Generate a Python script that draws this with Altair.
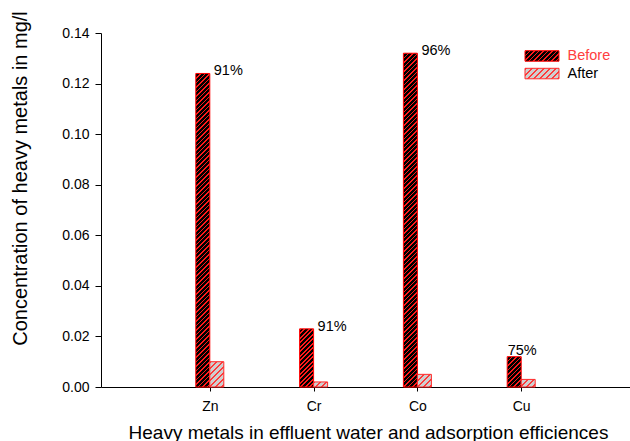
import math
import altair as alt
import pandas as pd

# Heavy metal concentrations (mg/l) before and after adsorption
metals = ["Zn", "Cr", "Co", "Cu"]
before = [0.124, 0.023, 0.132, 0.012]
after = [0.010, 0.002, 0.005, 0.003]
efficiency = ["91%", "91%", "96%", "75%"]
series = ["Before", "After"]

FONT = "Liberation Sans"
PLOT_W, PLOT_H = 529, 354
Y_MAX = 0.14
BAR_W = 14
PX_PER_UNIT = PLOT_H / Y_MAX


def hatch(bg, fg, w, h, period, frac):
    """Diagonal '///' hatch built from a hard-stop linear gradient.

    Works in bounding-box units: with the vector scaled by (w, h) the
    gradient parameter becomes (x + y) / (w + h), so stripes run at 45 deg.
    """
    t = (w + h) / (w * w + h * h)
    span = w + h
    n = int(math.ceil(span / period))
    stops = []
    for k in range(n):
        a = k * period / span
        b = min((k * period + period * frac) / span, 1.0)
        c = min((k + 1) * period / span, 1.0)
        stops += [(a, fg), (b, fg), (b, bg), (c, bg)]
    return alt.LinearGradient(
        gradient="linear",
        stops=[alt.GradientStop(offset=round(o, 5), color=col) for o, col in stops],
        x1=0, y1=0, x2=round(w * t, 5), y2=round(h * t, 5),
    )


STYLE = {
    "Before": dict(bg="#000000", fg="#ff1a1a", period=4.5, frac=0.36, stroke="#ff0000", offset=-BAR_W / 2),
    "After": dict(bg="#cfcfcf", fg="#ff3a3a", period=6.0, frac=0.3, stroke="#ff2a2a", offset=BAR_W / 2),
}

rows = []
for i, m in enumerate(metals):
    rows.append({"metal": m, "pos": i + 1, "series": "Before", "value": before[i]})
    rows.append({"metal": m, "pos": i + 1, "series": "After", "value": after[i]})
df = pd.DataFrame(rows)

label_expr = "['', " + ", ".join(f"'{m}'" for m in metals) + "][datum.value]"

x_enc = alt.X(
    "pos:Q",
    scale=alt.Scale(domain=[0, len(metals) + 1], nice=False, zero=False),
    axis=alt.Axis(
        values=list(range(1, len(metals) + 1)),
        labelExpr=label_expr,
        title="Heavy metals in effluent water and adsorption efficiences",
        titleFontSize=19, titleFont=FONT, titleFontWeight="normal",
        titleX=267, titleY=45, titleBaseline="middle", titleAnchor="middle",
        labelFontSize=14, labelFont=FONT, labelPadding=8,
        tickSize=4, grid=False, domainColor="black", tickColor="black",
        labelColor="black", titleColor="black",
    ),
)
y_enc = alt.Y(
    "value:Q",
    scale=alt.Scale(domain=[0, Y_MAX], nice=False),
    axis=alt.Axis(
        values=[round(0.02 * k, 2) for k in range(8)],
        format=".2f",
        title="Concentration of heavy metals in mg/l",
        titleFontSize=20, titleFont=FONT, titleFontWeight="normal",
        titleX=-81, titleY=145, titleBaseline="middle", titleAngle=-90,
        titleAlign="center",
        labelFontSize=14, labelFont=FONT, labelPadding=6,
        tickSize=6, grid=False, domainColor="black", tickColor="black",
        labelColor="black", titleColor="black",
    ),
)

layers = []
for r in rows:
    st = STYLE[r["series"]]
    h = r["value"] * PX_PER_UNIT
    fill = hatch(st["bg"], st["fg"], BAR_W, h, st["period"], st["frac"])
    layers.append(
        alt.Chart(df)
        .transform_filter(
            (alt.datum.metal == r["metal"]) & (alt.datum.series == r["series"])
        )
        .mark_bar(size=BAR_W, xOffset=st["offset"], fill=fill,
                  stroke=st["stroke"], strokeWidth=1, opacity=1)
        .encode(x=x_enc, y=y_enc)
    )

# Adsorption efficiency labels above the "Before" bars
lab = pd.DataFrame({"metal": metals, "pos": list(range(1, len(metals) + 1)),
                    "value": before, "eff": efficiency})
side_labels = (
    alt.Chart(lab)
    .transform_filter(alt.datum.metal != "Cu")
    .mark_text(align="left", baseline="middle", dx=4, dy=-2,
               font=FONT, fontSize=14.5, color="black")
    .encode(x=x_enc, y=y_enc, text="eff:N")
)
top_labels = (
    alt.Chart(lab)
    .transform_filter(alt.datum.metal == "Cu")
    .mark_text(align="center", baseline="alphabetic", dx=1, dy=-2,
               font=FONT, fontSize=14.5, color="black")
    .encode(x=x_enc, y=y_enc, text="eff:N")
)

# Legend drawn as hatched swatches with their series names
leg = pd.DataFrame({"series": series, "idx": [0, 1]})
legend_layers = []
for i, s in enumerate(series):
    st = STYLE[s]
    y0 = 17.7 + i * 17.6
    legend_layers.append(
        alt.Chart(leg)
        .transform_filter(alt.datum.series == s)
        .mark_rect(fill=hatch(st["bg"], st["fg"], 34, 10.5, st["period"], st["frac"]),
                   stroke=st["stroke"], strokeWidth=1)
        .encode(x=alt.value(424), x2=alt.value(458),
                y=alt.value(y0), y2=alt.value(y0 + 10.5))
    )
    legend_layers.append(
        alt.Chart(leg)
        .transform_filter(alt.datum.series == s)
        .mark_text(align="left", baseline="middle", font=FONT, fontSize=14.5,
                   color="#ff4040" if s == "Before" else "black")
        .encode(x=alt.value(466.5), y=alt.value(y0 + 5.5), text="series:N")
    )

chart = (
    alt.layer(*layers, side_labels, top_labels, *legend_layers)
    .properties(
        width=PLOT_W, height=PLOT_H,
        autosize=alt.AutoSizeParams(type="none"),
        padding={"left": 101, "top": 33, "right": 0, "bottom": 54},
        background="white",
    )
    .configure_view(stroke=None)
)

chart.save("out.html", embed_options={"renderer": "svg", "actions": False})
